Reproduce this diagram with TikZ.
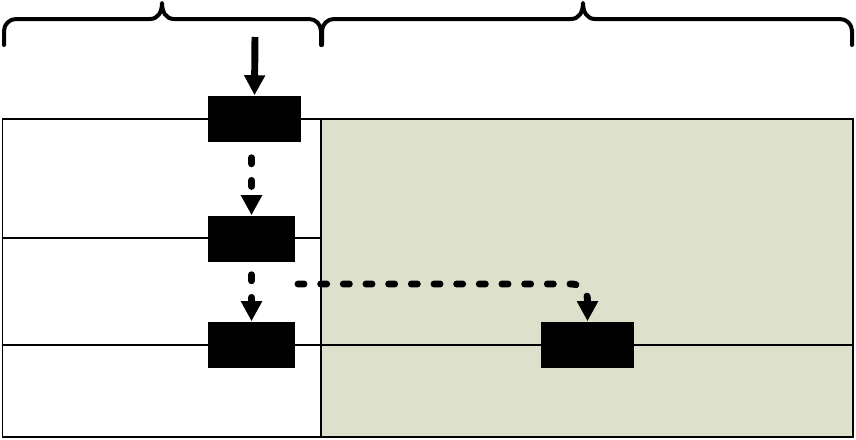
\documentclass[tikz,border=0pt]{standalone}
\usetikzlibrary{arrows.meta}
\definecolor{panelgreen}{RGB}{221,224,203}
\tikzset{
  blackbox/.style={draw=none,fill=black,inner sep=0pt,minimum width=#1,minimum height=34.5pt},
  panel/.style={draw=black,line width=1pt},
  bracestyle/.style={line width=3pt,line cap=round,line join=round},
  solidarrow/.style={line width=5.2pt,-{Triangle[length=15pt,width=15pt]}},
  dasharrow/.style={line width=5.2pt,line cap=round,dash pattern=on 4.5pt off 12.5pt,-{Triangle[length=15pt,width=15pt]}}
}
\begin{document}
\begin{tikzpicture}[x=0.75pt,y=-0.75pt]
\useasboundingbox (0,0) rectangle (856,439);
% panels
\fill[white] (2.5,119) rectangle (321,437);
\fill[panelgreen] (321,119) rectangle (853,437);
\draw[panel] (2.5,119) rectangle (321,437);
\draw[panel] (321,119) rectangle (853,437);
\draw[panel] (2.5,238) -- (321,238);
\draw[panel] (2.5,345) -- (853,345);
% braces
\draw[bracestyle,rounded corners=9pt] (4,45) -- (4,19) -- (150,19);
\draw[bracestyle] (150,19) .. controls (158,19) and (162,12) .. (162,3) .. controls (162,12) and (166,19) .. (174,19);
\draw[bracestyle,rounded corners=9pt] (174,19) -- (321,19) -- (321,45);
\draw[bracestyle,rounded corners=9pt] (322,45) -- (322,19) -- (571,19);
\draw[bracestyle] (571,19) .. controls (579,19) and (583,12) .. (583,3) .. controls (583,12) and (587,19) .. (595,19);
\draw[bracestyle,rounded corners=9pt] (595,19) -- (852,19) -- (852,45);
% boxes
\node[blackbox=69.75pt] (box1) at (254.5,118.5) {};
\node[blackbox=65.25pt] (box2) at (251.5,238.5) {};
\node[blackbox=65.25pt] (box3) at (251.5,344.5) {};
\node[blackbox=69.75pt] (box4) at (587.5,344.5) {};
% connectors
\coordinate (in) at (255,37);
\coordinate (cross) at (298,284);
\draw[solidarrow] (in) -- (box1.north);
\draw[dasharrow] (box2.north |- box1.south) ++(0,16) -- (box2.north);
\draw[dasharrow] (box2.south) ++(0,13) -- (box3.north);
\draw[dasharrow,rounded corners=12pt] (cross) -- (box4.north |- cross) -- (box4.north);
\end{tikzpicture}
\end{document}
